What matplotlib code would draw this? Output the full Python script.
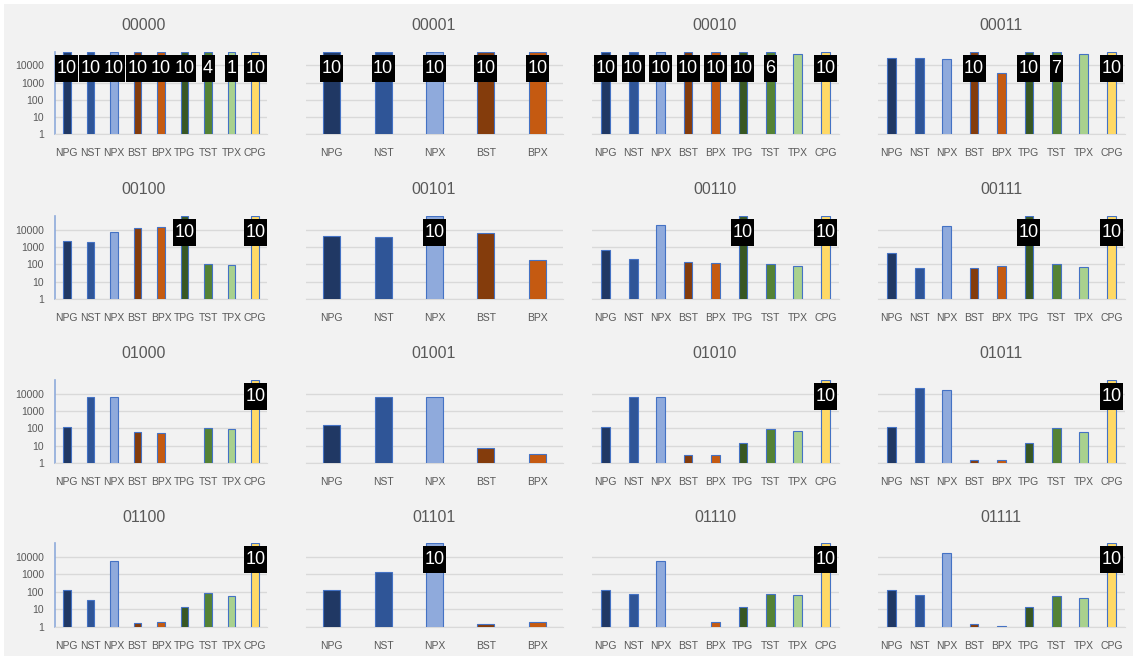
import numpy as np
import matplotlib
matplotlib.use("Agg")
import matplotlib.pyplot as plt
from matplotlib.patches import Rectangle
from matplotlib.path import Path
from matplotlib.ticker import NullLocator

plt.rcParams['font.family'] = ['Liberation Sans', 'DejaVu Sans']

W, H = 1137, 660
nan = np.nan

# categories
cats9 = ['NPG', 'NST', 'NPX', 'BST', 'BPX', 'TPG', 'TST', 'TPX', 'CPG']
cats5 = ['NPG', 'NST', 'NPX', 'BST', 'BPX']
colors9 = ['#203864', '#2f5597', '#8faadc', '#843c0c', '#c55a11',
           '#385723', '#548235', '#a9d18e', '#ffd966']

panel_names = ['00000', '00001', '00010', '00011',
               '00100', '00101', '00110', '00111',
               '01000', '01001', '01010', '01011',
               '01100', '01101', '01110', '01111']

# mean runtime per solver (timeout = 60000)
v_00000 = [60000, 60000, 60000, 60000, 60000, 60000, 60000, 60000, 60000]
v_00001 = [60000, 60000, 60000, 60000, 60000]
v_00010 = [60000, 60000, 60000, 60000, 60000, 60000, 60000, 45000, 60000]
v_00011 = [27000, 27000, 22000, 60000, 3400, 60000, 60000, 44000, 60000]
v_00100 = [2200, 1900, 7300, 12000, 13500, 60000, 100, 85, 60000]
v_00101 = [4200, 3600, 60000, 6000, 170]
v_00110 = [650, 200, 18500, 140, 120, 60000, 100, 83, 60000]
v_00111 = [470, 62, 15500, 62, 83, 60000, 100, 70, 60000]
v_01000 = [120, 6300, 6000, 65, 54, nan, 100, 88, 60000]
v_01001 = [160, 6200, 6000, 7, 3.5]
v_01010 = [120, 6200, 6000, 3, 3, 13.5, 85, 73, 60000]
v_01011 = [125, 22000, 15500, 1.5, 1.5, 13.5, 100, 62, 60000]
v_01100 = [125, 33, 5900, 1.7, 2, 13.5, 83, 60, 60000]
v_01101 = [130, 1300, 60000, 1.5, 2]
v_01110 = [125, 73, 6000, nan, 1.9, 13.5, 72, 65, 60000]
v_01111 = [125, 65, 17000, 1.5, 1.2, 13.5, 60, 45, 60000]

# number of timeouts (out of 10), 0 = no label
t_00000 = [10, 10, 10, 10, 10, 10, 4, 1, 10]
t_00001 = [10, 10, 10, 10, 10]
t_00010 = [10, 10, 10, 10, 10, 10, 6, 0, 10]
t_00011 = [0, 0, 0, 10, 0, 10, 7, 0, 10]
t_00100 = [0, 0, 0, 0, 0, 10, 0, 0, 10]
t_00101 = [0, 0, 10, 0, 0]
t_00110 = [0, 0, 0, 0, 0, 10, 0, 0, 10]
t_00111 = [0, 0, 0, 0, 0, 10, 0, 0, 10]
t_01000 = [0, 0, 0, 0, 0, 0, 0, 0, 10]
t_01001 = [0, 0, 0, 0, 0]
t_01010 = [0, 0, 0, 0, 0, 0, 0, 0, 10]
t_01011 = [0, 0, 0, 0, 0, 0, 0, 0, 10]
t_01100 = [0, 0, 0, 0, 0, 0, 0, 0, 10]
t_01101 = [0, 0, 10, 0, 0]
t_01110 = [0, 0, 0, 0, 0, 0, 0, 0, 10]
t_01111 = [0, 0, 0, 0, 0, 0, 0, 0, 10]

values = [v_00000, v_00001, v_00010, v_00011, v_00100, v_00101, v_00110, v_00111,
          v_01000, v_01001, v_01010, v_01011, v_01100, v_01101, v_01110, v_01111]
timeouts = [t_00000, t_00001, t_00010, t_00011, t_00100, t_00101, t_00110, t_00111,
            t_01000, t_01001, t_01010, t_01011, t_01100, t_01101, t_01110, t_01111]

yticks = [1, 10, 100, 1000, 10000]

# layout in pixels
col_x = [(55, 267), (306, 563), (592, 839), (878, 1125)]
row_y = [(52, 134), (216, 299), (380, 463), (543, 627)]
title_x = [144, 434, 715, 1001]
title_y = [26, 190, 354, 518]


def tall_box(x0, y0, width, height, mutation_size):
    # label box like excel: little side padding, more top/bottom
    px = 0.08 * mutation_size
    py = 0.28 * mutation_size
    x0, y0 = x0 - px, y0 - py
    x1, y1 = x0 + width + 2 * px, y0 + height + 2 * py
    return Path([(x0, y0), (x1, y0), (x1, y1), (x0, y1), (x0, y0)], closed=True)


fig = plt.figure(figsize=(W / 100, H / 100), dpi=100, facecolor='white')
fig.patches.append(Rectangle((4 / W, 4 / H), (W - 8) / W, (H - 8) / H,
                             transform=fig.transFigure, fc='#f2f2f2', ec='none', zorder=-10))

for k, name in enumerate(panel_names):
    r, c = divmod(k, 4)
    l, rr = col_x[c]
    t, b = row_y[r]
    ax = fig.add_axes([l / W, 1 - b / H, (rr - l) / W, (b - t) / H])
    ax.set_facecolor('none')
    vals = values[k]
    cats = cats9 if len(vals) == 9 else cats5
    cols = colors9[:len(vals)]
    x = np.arange(len(vals))
    ax.bar(x, vals, width=0.32 if len(vals) == 9 else 0.33, color=cols,
           edgecolor='#4472c4', linewidth=0.8, zorder=3)
    ax.set_yscale('log')
    ax.set_ylim(1, 60000)
    ax.set_xlim(-0.5, len(vals) - 0.5)
    ax.set_yticks(yticks)
    ax.yaxis.set_minor_locator(NullLocator())
    if c == 0:
        ax.set_yticklabels([str(v) for v in yticks])
    else:
        ax.set_yticklabels([])
    ax.set_xticks(x)
    ax.set_xticklabels(cats)
    ax.tick_params(axis='both', length=0, labelsize=7.5, labelcolor='#595959')
    ax.tick_params(axis='x', pad=10)
    ax.tick_params(axis='y', pad=8)
    ax.grid(axis='y', color='#d9d9d9', linewidth=1, zorder=0)
    for s in ['top', 'right']:
        ax.spines[s].set_visible(False)
    ax.spines['bottom'].set_color('#d9d9d9')
    if c == 0:
        ax.spines['left'].set_color('#8eaadb')
        ax.spines['left'].set_linewidth(1.2)
    else:
        ax.spines['left'].set_visible(False)
    for i, n in enumerate(timeouts[k]):
        if n > 0:
            ax.annotate(str(n), (i, vals[i]), xytext=(0, -12), textcoords='offset points',
                        ha='center', va='center', color='white', fontsize=13, zorder=5,
                        bbox=dict(boxstyle=tall_box, fc='black', ec='none'),
                        annotation_clip=False)
    fig.text(title_x[c] / W, 1 - title_y[r] / H, name, ha='center', va='center',
             fontsize=11.5, color='#595959')

fig.savefig('out.png', dpi=100, facecolor=fig.get_facecolor())
